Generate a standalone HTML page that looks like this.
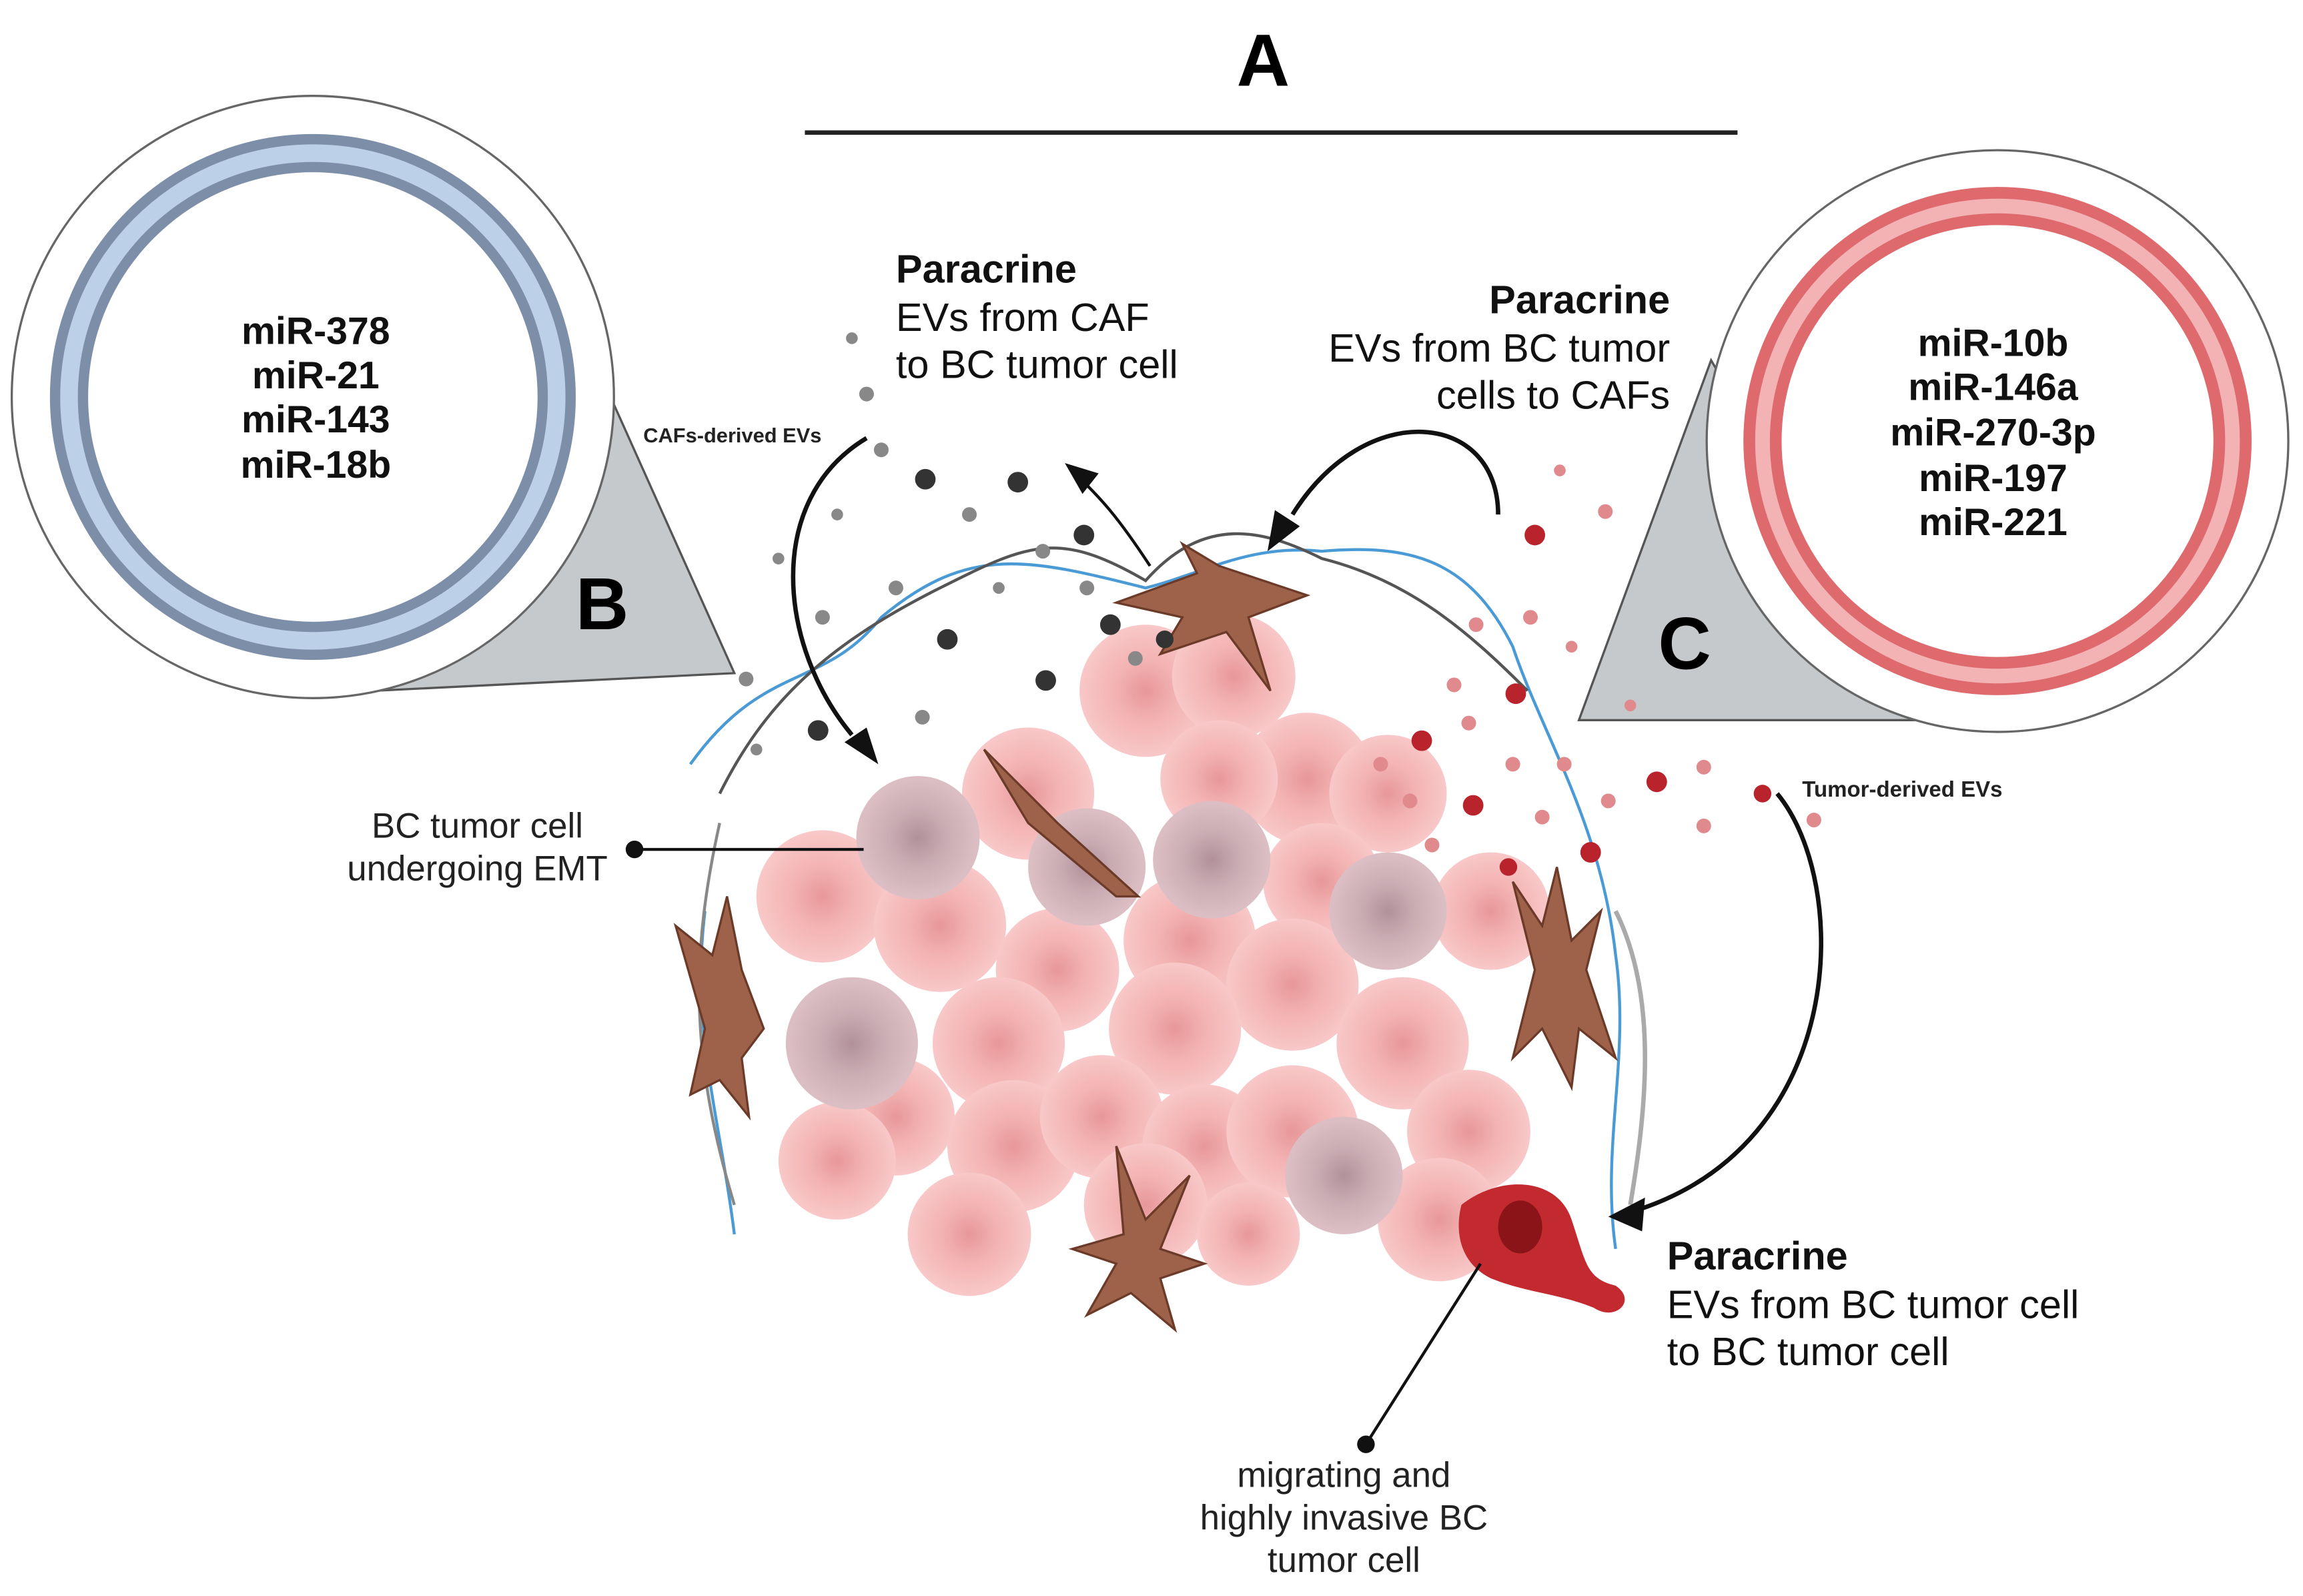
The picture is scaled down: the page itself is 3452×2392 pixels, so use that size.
<!DOCTYPE html>
<html><head><meta charset="utf-8"><style>
html,body{margin:0;padding:0;background:#fff;}
svg{display:block}
text{font-family:"Liberation Sans",sans-serif;}
</style></head><body>
<svg width="3452" height="2392" viewBox="0 0 1568 1086" xmlns="http://www.w3.org/2000/svg">
<defs>
<radialGradient id="pk" cx="50%" cy="50%" r="50%"><stop offset="0" stop-color="#e58c8e"/><stop offset="0.45" stop-color="#f2aaaa"/><stop offset="1" stop-color="#f8c2c2"/></radialGradient>
<radialGradient id="pu" cx="50%" cy="50%" r="50%"><stop offset="0" stop-color="#a98590"/><stop offset="0.45" stop-color="#c4a3ab"/><stop offset="1" stop-color="#d9b9bf"/></radialGradient>
</defs>
<rect width="1568" height="1086" fill="#fff"/>
<text x="860" y="58" font-size="50" font-weight="bold" text-anchor="middle">A</text>
<line x1="548" y1="90" x2="1183" y2="90" stroke="#222" stroke-width="3"/>

<polygon points="400,235 500,458 255,470" fill="#c5c9cb" stroke="#555" stroke-width="1.5"/>
<polygon points="1165,245 1075,490 1310,490" fill="#c5c9cb" stroke="#555" stroke-width="1.5"/>

<circle cx="213" cy="270" r="205" fill="#fff" stroke="#666" stroke-width="1.5"/>
<circle cx="213" cy="270" r="166" fill="none" stroke="#7d8ea8" stroke-width="26"/>
<circle cx="213" cy="270" r="166" fill="none" stroke="#bcd0e8" stroke-width="12"/>
<g font-size="26" font-weight="bold" text-anchor="middle" fill="#111">
<text x="215" y="234">miR-378</text><text x="215" y="264">miR-21</text><text x="215" y="294">miR-143</text><text x="215" y="325">miR-18b</text>
</g>
<text x="410" y="428" font-size="50" font-weight="bold" text-anchor="middle">B</text>

<circle cx="1360" cy="300" r="198" fill="#fff" stroke="#666" stroke-width="1.5"/>
<circle cx="1360" cy="300" r="160" fill="none" stroke="#de6a6e" stroke-width="26"/>
<circle cx="1360" cy="300" r="160" fill="none" stroke="#f3b3b5" stroke-width="10"/>
<g font-size="26" font-weight="bold" text-anchor="middle" fill="#111">
<text x="1357" y="242">miR-10b</text><text x="1357" y="272">miR-146a</text><text x="1357" y="303">miR-270-3p</text><text x="1357" y="334">miR-197</text><text x="1357" y="364">miR-221</text>
</g>
<text x="1147" y="455" font-size="50" font-weight="bold" text-anchor="middle">C</text>

<path d="M470,520 C520,450 560,470 600,420 C660,370 700,380 780,400 C820,390 850,370 900,375 C960,370 1000,380 1030,440 C1050,500 1090,560 1100,650 C1110,720 1090,780 1100,850" fill="none" stroke="#4a9ad6" stroke-width="2"/>
<path d="M480,620 C470,700 490,760 500,840" fill="none" stroke="#4a9ad6" stroke-width="2"/>
<path d="M490,540 C520,480 560,440 640,400 C700,370 720,360 780,395 C820,350 860,360 900,380 C960,395 1000,430 1040,470" fill="none" stroke="#555" stroke-width="2"/>
<path d="M490,560 C470,650 470,720 500,820" fill="none" stroke="#888" stroke-width="2"/>
<path d="M1100,620 C1130,680 1120,760 1110,820" fill="none" stroke="#aaa" stroke-width="3"/>

<g opacity="0.9">
<circle cx="780" cy="470" r="45" fill="url(#pk)"/><circle cx="840" cy="460" r="42" fill="url(#pk)"/>
<circle cx="890" cy="530" r="45" fill="url(#pk)"/><circle cx="945" cy="540" r="40" fill="url(#pk)"/>
<circle cx="830" cy="530" r="40" fill="url(#pk)"/><circle cx="700" cy="540" r="45" fill="url(#pk)"/>
<circle cx="560" cy="610" r="45" fill="url(#pk)"/><circle cx="640" cy="630" r="45" fill="url(#pk)"/>
<circle cx="720" cy="660" r="42" fill="url(#pk)"/><circle cx="810" cy="640" r="45" fill="url(#pk)"/>
<circle cx="900" cy="600" r="40" fill="url(#pk)"/><circle cx="1015" cy="620" r="40" fill="url(#pk)"/>
<circle cx="880" cy="670" r="45" fill="url(#pk)"/><circle cx="955" cy="710" r="45" fill="url(#pk)"/>
<circle cx="800" cy="700" r="45" fill="url(#pk)"/><circle cx="680" cy="710" r="45" fill="url(#pk)"/>
<circle cx="610" cy="760" r="40" fill="url(#pk)"/><circle cx="570" cy="790" r="40" fill="url(#pk)"/>
<circle cx="690" cy="780" r="45" fill="url(#pk)"/><circle cx="750" cy="760" r="42" fill="url(#pk)"/>
<circle cx="820" cy="780" r="42" fill="url(#pk)"/><circle cx="880" cy="770" r="45" fill="url(#pk)"/>
<circle cx="1000" cy="770" r="42" fill="url(#pk)"/><circle cx="660" cy="840" r="42" fill="url(#pk)"/>
<circle cx="780" cy="820" r="42" fill="url(#pk)"/><circle cx="980" cy="830" r="42" fill="url(#pk)"/>
<circle cx="850" cy="840" r="35" fill="url(#pk)"/>
<circle cx="625" cy="570" r="42" fill="url(#pu)"/><circle cx="740" cy="590" r="40" fill="url(#pu)"/>
<circle cx="825" cy="585" r="40" fill="url(#pu)"/><circle cx="945" cy="620" r="40" fill="url(#pu)"/>
<circle cx="580" cy="710" r="45" fill="url(#pu)"/><circle cx="915" cy="800" r="40" fill="url(#pu)"/>
</g>

<g fill="#9d6249" stroke="#6b3a28" stroke-width="1.5">
<path d="M760,410 L815,390 L805,370 L830,385 L890,405 L850,420 L865,470 L835,430 L790,445 L805,420 Z"/>
<path d="M670,510 L720,560 L775,610 L760,610 L700,560 Z"/>
<path d="M460,630 L485,650 L495,610 L505,660 L520,700 L505,720 L510,760 L490,735 L470,745 L480,700 Z"/>
<path d="M1030,600 L1050,630 L1060,590 L1070,640 L1090,620 L1080,660 L1100,720 L1075,700 L1070,740 L1050,700 L1030,720 L1045,660 Z"/>
<path d="M760,780 L780,830 L810,800 L790,850 L820,860 L790,870 L800,905 L770,880 L740,895 L760,860 L730,850 L765,840 Z"/>
</g>
<path d="M995,820 C1020,800 1060,800 1070,830 C1080,860 1080,870 1100,875 C1115,885 1100,900 1085,890 C1060,880 1040,880 1015,870 C995,860 990,840 995,820 Z" fill="#c22a30"/>
<ellipse cx="1035" cy="835" rx="15" ry="18" fill="#8a1418"/>

<g fill="#333">
<circle cx="630" cy="326" r="7"/><circle cx="693" cy="328" r="7"/><circle cx="738" cy="364" r="7"/><circle cx="645" cy="435" r="7"/><circle cx="712" cy="463" r="7"/><circle cx="756" cy="425" r="7"/><circle cx="557" cy="497" r="7"/><circle cx="793" cy="435" r="6"/>
</g>
<g fill="#888">
<circle cx="580" cy="230" r="4"/><circle cx="590" cy="268" r="5"/><circle cx="600" cy="306" r="5"/><circle cx="570" cy="350" r="4"/><circle cx="560" cy="420" r="5"/><circle cx="610" cy="400" r="5"/><circle cx="660" cy="350" r="5"/><circle cx="710" cy="375" r="5"/><circle cx="680" cy="400" r="4"/><circle cx="740" cy="400" r="5"/><circle cx="628" cy="488" r="5"/><circle cx="508" cy="462" r="5"/><circle cx="530" cy="380" r="4"/><circle cx="515" cy="510" r="4"/><circle cx="773" cy="448" r="5"/>
</g>
<g fill="#b9232b">
<circle cx="1045" cy="364" r="7"/><circle cx="1032" cy="472" r="7"/><circle cx="968" cy="504" r="7"/><circle cx="1003" cy="548" r="7"/><circle cx="1128" cy="532" r="7"/><circle cx="1083" cy="580" r="7"/><circle cx="1200" cy="540" r="6"/><circle cx="1027" cy="590" r="6"/>
</g>
<g fill="#e08a8e">
<circle cx="1062" cy="320" r="4"/><circle cx="1093" cy="348" r="5"/><circle cx="1042" cy="420" r="5"/><circle cx="1005" cy="425" r="5"/><circle cx="990" cy="466" r="5"/><circle cx="1000" cy="492" r="5"/><circle cx="1030" cy="520" r="5"/><circle cx="1065" cy="520" r="5"/><circle cx="1095" cy="545" r="5"/><circle cx="1160" cy="522" r="5"/><circle cx="1160" cy="562" r="5"/><circle cx="1235" cy="558" r="5"/><circle cx="1050" cy="556" r="5"/><circle cx="960" cy="545" r="5"/><circle cx="940" cy="520" r="5"/><circle cx="975" cy="575" r="5"/><circle cx="1110" cy="480" r="4"/><circle cx="1070" cy="440" r="4"/>
</g>

<g fill="none" stroke="#111" stroke-width="3">
<path d="M590,298 C520,340 530,440 580,500"/>
<path d="M1020,350 C1020,280 930,270 880,350"/>
<path d="M1210,540 C1260,600 1260,780 1110,825"/>
</g>
<path d="M783,385 C760,350 750,340 735,325" fill="none" stroke="#111" stroke-width="2"/>
<g fill="#111">
<polygon points="598,520 575,505 590,495"/>
<polygon points="863,375 868,347 885,358"/>
<polygon points="1095,828 1120,815 1118,838"/>
<polygon points="725,315 748,322 737,336"/>
</g>

<g font-size="27" fill="#111">
<text x="610" y="192" font-weight="bold">Paracrine</text>
<text x="610" y="225">EVs from CAF</text>
<text x="610" y="257">to BC tumor cell</text>
<text x="1137" y="213" font-weight="bold" text-anchor="end">Paracrine</text>
<text x="1137" y="246" text-anchor="end">EVs from BC tumor</text>
<text x="1137" y="278" text-anchor="end">cells to CAFs</text>
<text x="1135" y="864" font-weight="bold">Paracrine</text>
<text x="1135" y="897">EVs from BC tumor cell</text>
<text x="1135" y="929">to BC tumor cell</text>
</g>
<g font-size="24" fill="#222" text-anchor="middle">
<text x="325" y="570">BC tumor cell</text>
<text x="325" y="599">undergoing EMT</text>
<text x="915" y="1012">migrating and</text>
<text x="915" y="1041">highly invasive BC</text>
<text x="915" y="1070">tumor cell</text>
</g>
<text x="438" y="301" font-size="14" font-weight="bold" fill="#222">CAFs-derived EVs</text>
<text x="1227" y="542" font-size="15" font-weight="bold" fill="#222">Tumor-derived EVs</text>
<line x1="432" y1="578" x2="588" y2="578" stroke="#111" stroke-width="2"/>
<circle cx="432" cy="578" r="6" fill="#111"/>
<line x1="930" y1="983" x2="1008" y2="860" stroke="#111" stroke-width="2"/>
<circle cx="930" cy="983" r="6" fill="#111"/>
</svg>
</body></html>
